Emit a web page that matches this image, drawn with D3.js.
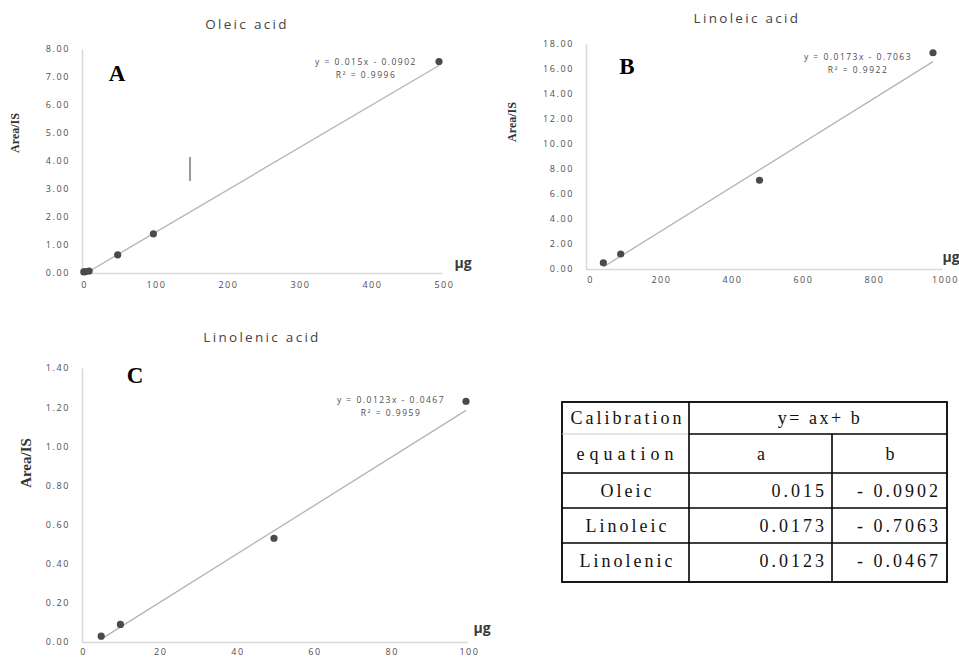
<!DOCTYPE html>
<html>
<head>
<meta charset="utf-8">
<title>Calibration curves</title>
<script src="https://cdn.jsdelivr.net/npm/d3@7/dist/d3.min.js"></script>
<style>
  body { margin: 0; background: #fff; }
  svg { font-family: "Open Sans", sans-serif; }
</style>
</head>
<body>
<script>
// values
var acids = ["Oleic acid", "Linoleic acid", "Linolenic acid"];
var panelLetters = ["A", "B", "C"];

var oleicX = [2.5, 5, 10, 50, 100, 500];
var oleicY = [0.04, 0.05, 0.07, 0.65, 1.40, 7.55];
var linoleicX = [50, 100, 500, 1000];
var linoleicY = [0.50, 1.20, 7.10, 17.30];
var linolenicX = [5, 10, 50, 100];
var linolenicY = [0.03, 0.09, 0.53, 1.23];

var slopes = [0.015, 0.0173, 0.0123];
var intercepts = [-0.0902, -0.7063, -0.0467];
var rSquared = [0.9996, 0.9922, 0.9959];

var xTicksA = [0, 100, 200, 300, 400, 500];
var xTicksB = [0, 200, 400, 600, 800, 1000];
var xTicksC = [0, 20, 40, 60, 80, 100];
var yTicksA = [0, 1, 2, 3, 4, 5, 6, 7, 8];
var yTicksB = [0, 2, 4, 6, 8, 10, 12, 14, 16, 18];
var yTicksC = [0, 0.2, 0.4, 0.6, 0.8, 1.0, 1.2, 1.4];

var tableNames = ["Oleic", "Linoleic", "Linolenic"];

var width = 959, height = 660;
var SERIF = "'Liberation Serif', 'Times New Roman', serif";

var svg = d3.select("body").append("svg")
    .attr("width", width)
    .attr("height", height)
    .style("background", "#fff");

// layout of the three panels
var panels = [
  {xs: oleicX, ys: oleicY, xt: xTicksA, yt: yTicksA, xRange: [82, 439], yRange: [273, 49],
   xLab: [82, 442], titleX: 247, titleY: 29, letter: [117, 81], eq: [366, 65], ug: [463, 268],
   axisTitle: [19, 133, 12], xPad: 9, xDx: 2},
  {xs: linoleicX, ys: linoleicY, xt: xTicksB, yt: yTicksB, xRange: [586, 933], yRange: [269, 44],
   xLab: [587, 942], titleX: 747, titleY: 23, letter: [627, 74], eq: [858, 60], ug: [951, 262],
   axisTitle: [516, 122, 12], xPad: 8, xDx: 3},
  {xs: linolenicX, ys: linolenicY, xt: xTicksC, yt: yTicksC, xRange: [82, 466], yRange: [642, 368],
   xLab: [82, 468], titleX: 262, titleY: 342, letter: [135, 383], eq: [391, 403], ug: [482, 633],
   axisTitle: [31, 463, 15], xPad: 7, xDx: 1}
];

panels.forEach(function(p, i) {
  var x = d3.scaleLinear().domain([0, p.xt[p.xt.length - 1]]).range(p.xRange);
  var xl = d3.scaleLinear().domain([0, p.xt[p.xt.length - 1]]).range(p.xLab);
  var y = d3.scaleLinear().domain([0, p.yt[p.yt.length - 1]]).range(p.yRange);
  var g = svg.append("g");

  // y axis
  var ya = g.append("g")
      .attr("transform", "translate(" + p.xRange[0] + ",0)")
      .call(d3.axisLeft(y).tickValues(p.yt).tickSize(0).tickPadding(12).tickFormat(d3.format(".2f")));
  // x axis (labels sit slightly right of the data scale in the source)
  var xa = g.append("g")
      .attr("transform", "translate(0," + p.yRange[0] + ")")
      .call(d3.axisBottom(xl).tickValues(p.xt).tickSize(0).tickPadding(p.xPad).tickFormat(d3.format("d")));
  xa.select(".domain").attr("d", "M" + p.xRange[0] + ",0.5H" + p.xLab[1]);

  [ya, xa].forEach(function(a) {
    a.attr("font-family", null);
    a.select(".domain").attr("stroke", "#d9d9d9").attr("stroke-width", 1.6);
    a.selectAll("text")
        .attr("fill", "#4d4d4d")
        .style("font-size", "9px")
        .style("letter-spacing", "1.6px");
  });
  xa.selectAll("text").attr("dx", p.xDx);

  // title
  g.append("text")
      .attr("x", p.titleX).attr("y", p.titleY)
      .attr("text-anchor", "middle")
      .attr("fill", "#444")
      .style("font-size", "13.5px")
      .style("letter-spacing", "2.3px")
      .text(acids[i]);

  // axis titles
  g.append("text")
      .attr("transform", "translate(" + p.axisTitle[0] + "," + p.axisTitle[1] + ") rotate(-90)")
      .attr("text-anchor", "middle")
      .attr("fill", "#333")
      .style("font-family", SERIF)
      .style("font-weight", "bold")
      .style("font-size", p.axisTitle[2] + "px")
      .text("Area/IS");

  g.append("text")
      .attr("x", p.ug[0]).attr("y", p.ug[1])
      .attr("text-anchor", "middle")
      .attr("fill", "#3a3a3a")
      .style("font-size", "14px")
      .style("font-weight", "bold")
      .text("µg");

  // panel letter
  g.append("text")
      .attr("x", p.letter[0]).attr("y", p.letter[1])
      .attr("text-anchor", "middle")
      .attr("fill", "#000")
      .style("font-family", SERIF)
      .style("font-weight", "bold")
      .style("font-size", "23px")
      .text(panelLetters[i]);

  // linear trendline over the data range
  var ext = d3.extent(p.xs);
  var line = d3.line()
      .x(function(d) { return x(d); })
      .y(function(d) { return y(slopes[i] * d + intercepts[i]); });
  g.append("path")
      .attr("d", line(ext))
      .attr("fill", "none")
      .attr("stroke", "#b3b3b3")
      .attr("stroke-width", 1.3);

  // points
  g.selectAll("circle")
      .data(p.xs.map(function(v, k) { return [v, p.ys[k]]; }))
      .enter().append("circle")
      .attr("cx", function(d) { return x(d[0]); })
      .attr("cy", function(d) { return y(d[1]); })
      .attr("r", 3.6)
      .attr("fill", "#4a4a4a");

  // equation label
  var eq = g.append("text")
      .attr("text-anchor", "middle")
      .attr("fill", "#4d4d4d")
      .style("font-size", "8.5px")
      .style("letter-spacing", "1.5px");
  eq.append("tspan")
      .attr("x", p.eq[0]).attr("y", p.eq[1])
      .text("y = " + slopes[i] + "x - " + Math.abs(intercepts[i]).toFixed(4));
  eq.append("tspan")
      .attr("x", p.eq[0]).attr("y", p.eq[1] + 13)
      .text("R² = " + rSquared[i].toFixed(4));
});

// stray cursor mark in panel A
svg.append("line")
    .attr("x1", 190).attr("x2", 190)
    .attr("y1", 157).attr("y2", 181)
    .attr("stroke", "#555").attr("stroke-width", 1.2);

// calibration table
var colX = [562, 689, 832, 947];
var rowY = [402, 434, 473, 508, 543, 582];
var tbl = svg.append("g");

function hline(x1, x2, yy, col, w) {
  tbl.append("line").attr("x1", x1).attr("x2", x2).attr("y1", yy).attr("y2", yy)
      .attr("stroke", col || "#000").attr("stroke-width", w || 1.6);
}
function vline(xx, y1, y2) {
  tbl.append("line").attr("x1", xx).attr("x2", xx).attr("y1", y1).attr("y2", y2)
      .attr("stroke", "#000").attr("stroke-width", 1.6);
}
tbl.append("rect")
    .attr("x", colX[0]).attr("y", rowY[0])
    .attr("width", colX[3] - colX[0]).attr("height", rowY[5] - rowY[0])
    .attr("fill", "none").attr("stroke", "#000").attr("stroke-width", 1.8);
hline(colX[0], colX[1], rowY[1], "#c8c8c8", 1);
hline(colX[1], colX[3], rowY[1]);
hline(colX[0], colX[3], rowY[2]);
hline(colX[0], colX[3], rowY[3]);
hline(colX[0], colX[3], rowY[4]);
vline(colX[1], rowY[0], rowY[5]);
vline(colX[2], rowY[1], rowY[5]);

function cell(txt, xx, yy, anchor, ls) {
  tbl.append("text")
      .attr("x", xx).attr("y", yy)
      .attr("text-anchor", anchor)
      .attr("fill", "#111")
      .style("font-family", SERIF)
      .style("font-size", "18px")
      .style("letter-spacing", ls + "px")
      .text(txt);
}
var c0 = (colX[0] + colX[1]) / 2 + 2;
cell("Calibration", c0, 424, "middle", 3);
cell("equation", c0, 460, "middle", 5);
cell("y= ax+ b", (colX[1] + colX[3]) / 2 + 2, 424, "middle", 2.5);
cell("a", (colX[1] + colX[2]) / 2 + 2, 460, "middle", 3);
cell("b", (colX[2] + colX[3]) / 2 + 2, 460, "middle", 3);

tableNames.forEach(function(n, k) {
  var yy = rowY[k + 2] + 24;
  cell(n, c0, yy, "middle", 3);
  cell(String(slopes[k]), colX[2] - 5, yy, "end", 3);
  cell("- " + Math.abs(intercepts[k]).toFixed(4), colX[3] - 6, yy, "end", 3);
});
</script>
</body>
</html>
